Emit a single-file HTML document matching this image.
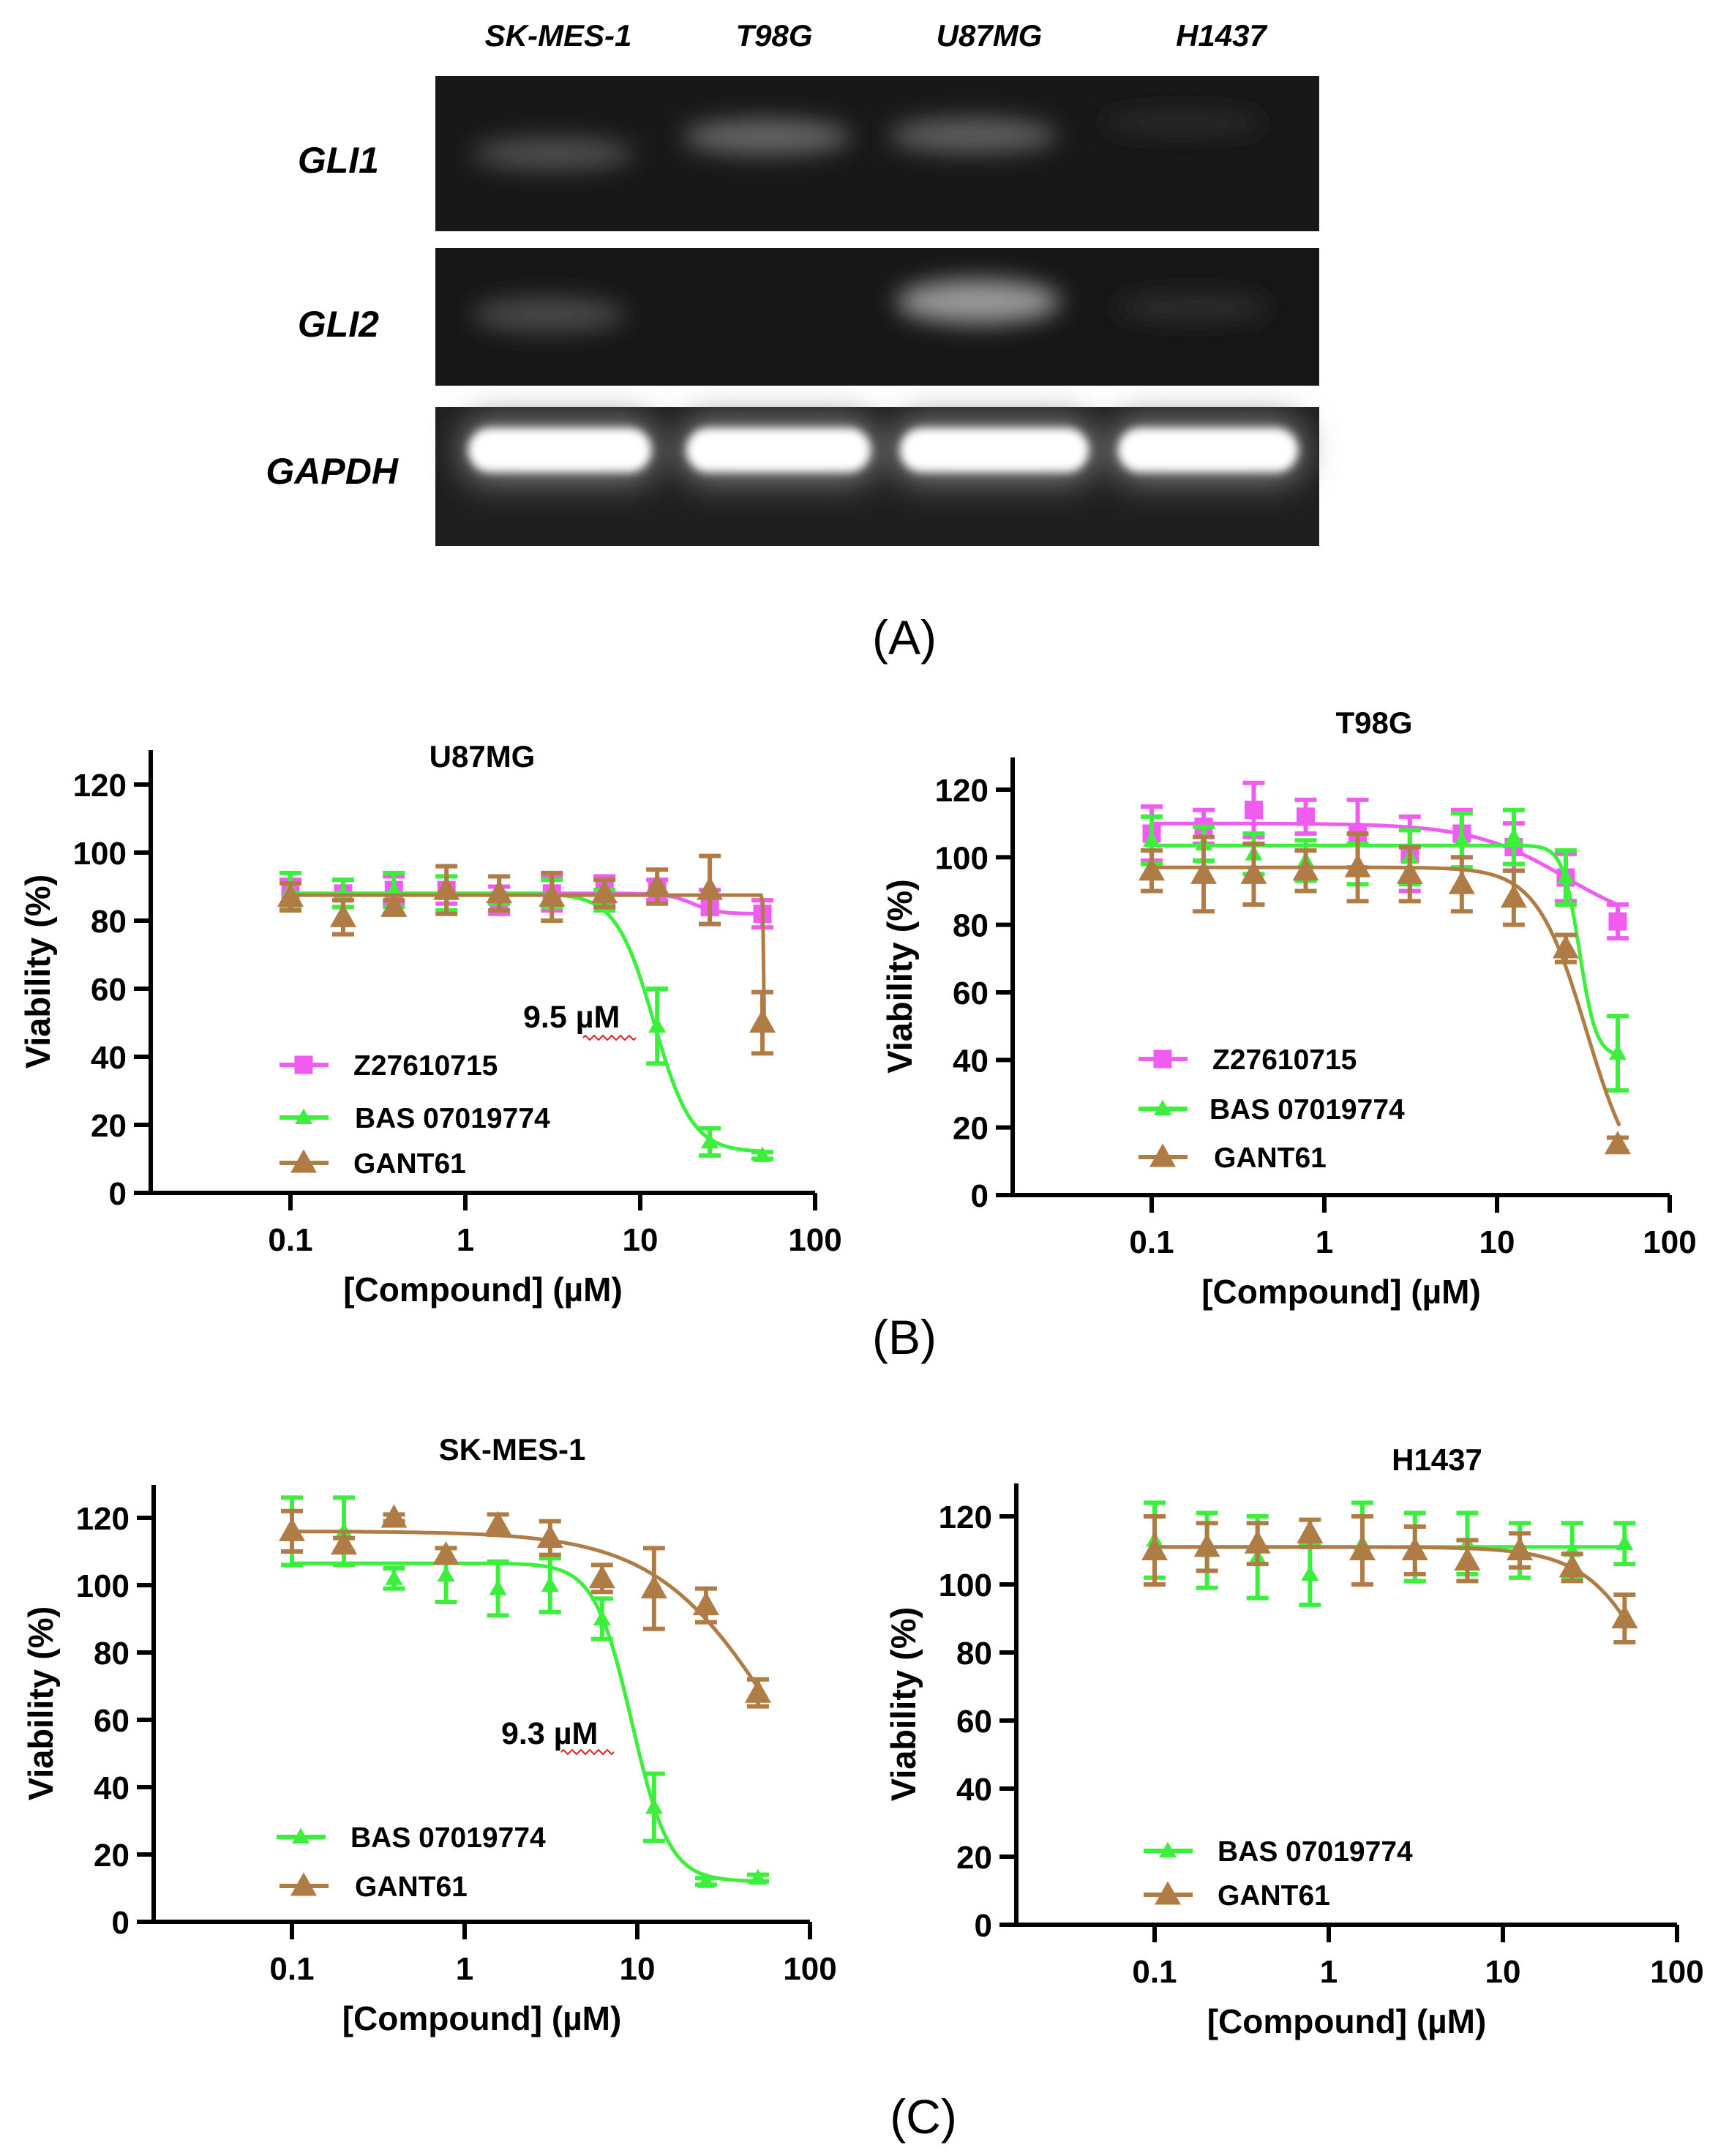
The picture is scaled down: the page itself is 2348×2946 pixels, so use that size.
<!DOCTYPE html>
<html><head><meta charset="utf-8"><style>
html,body{margin:0;padding:0;background:#fff}
svg{display:block}
text{font-family:"Liberation Sans",Arial,sans-serif}
</style></head><body>
<svg id="fig" width="2348" height="2946" viewBox="0 0 2348 2946" xmlns="http://www.w3.org/2000/svg">
<defs>
<filter id="b1" x="-50%" y="-100%" width="200%" height="300%"><feGaussianBlur stdDeviation="16"/></filter>
<filter id="b2" x="-50%" y="-100%" width="200%" height="300%"><feGaussianBlur stdDeviation="6"/></filter>
<filter id="b3" x="-50%" y="-100%" width="200%" height="300%"><feGaussianBlur stdDeviation="22"/></filter>
</defs>
<g>
<rect x="595" y="104" width="1208" height="212" fill="#181818"/>
<rect x="595" y="339" width="1208" height="188" fill="#171717"/>
<rect x="595" y="556" width="1208" height="190" fill="#1f1f1f"/>
<ellipse cx="756" cy="210" rx="110" ry="22" fill="#505050" filter="url(#b1)"/>
<ellipse cx="1048" cy="187" rx="115" ry="24" fill="#666" filter="url(#b1)"/>
<ellipse cx="1330" cy="185" rx="115" ry="24" fill="#5e5e5e" filter="url(#b1)"/>
<ellipse cx="1617" cy="168" rx="110" ry="16" fill="#2a2a2a" filter="url(#b1)"/>
<ellipse cx="750" cy="430" rx="105" ry="24" fill="#4a4a4a" filter="url(#b1)"/>
<ellipse cx="1337" cy="412" rx="112" ry="30" fill="#999" filter="url(#b1)"/>
<ellipse cx="1630" cy="420" rx="105" ry="18" fill="#2e2e2e" filter="url(#b1)"/>
<g filter="url(#b3)" fill="#777">
<rect x="630" y="570" width="270" height="90" rx="40"/><rect x="928" y="570" width="272" height="90" rx="40"/>
<rect x="1220" y="570" width="278" height="90" rx="40"/><rect x="1518" y="570" width="266" height="90" rx="40"/>
</g>
<rect x="640" y="585" width="250" height="60" rx="30" fill="#fff" filter="url(#b2)"/>
<rect x="938" y="585" width="252" height="60" rx="30" fill="#fff" filter="url(#b2)"/>
<rect x="1230" y="585" width="258" height="60" rx="30" fill="#fff" filter="url(#b2)"/>
<rect x="1528" y="585" width="246" height="60" rx="30" fill="#fff" filter="url(#b2)"/>
<g font-weight="bold" font-style="italic" font-size="42" text-anchor="middle">
<text x="763" y="63">SK-MES-1</text>
<text x="1058" y="63">T98G</text>
<text x="1352" y="63">U87MG</text>
<text x="1669" y="63">H1437</text>
</g>
<g font-weight="bold" font-style="italic" font-size="50" text-anchor="end">
<text x="518" y="236">GLI1</text>
<text x="518" y="460">GLI2</text>
<text x="544" y="661">GAPDH</text>
</g>
</g>
<g font-size="66" text-anchor="middle">
<text x="1236" y="894">(A)</text>
<text x="1236" y="1850">(B)</text>
<text x="1262" y="2915">(C)</text>
</g>
<g id="charts"></g>
</svg>
<script>
// ---- data ----
const conc = [0.1,0.2,0.39,0.78,1.56,3.125,6.25,12.5,25,50];
const xTicks = [0.1,1,10,100];
const xTickLabels = ["0.1","1","10","100"];
const yTicks = [0,20,40,60,80,100,120];

const u87Pink = [88,88,89,89,86,88,89,89,84,82];
const u87PinkErr = [4,4,4,4,4,5,4,3,5,4];
const u87Green = [89,88,89,88,89,88,86,49,15,11];
const u87GreenErr = [5,4,5,5,4,4,3,11,4,1];
const u87Brown = [87,81,84,89,88,87,88,90,89,50];
const u87BrownErr = [4,5,2,7,5,7,4,5,10,9];

const t98Pink = [107,109,114,112,107,101,107,103,94,81];
const t98PinkErr = [8,5,8,5,10,11,7,7,7,5];
const t98Green = [105,104,101,99,98,100,105,106,94,42];
const t98GreenErr = [7,5,6,6,6,8,8,8,8,11];
const t98Brown = [96,95,95,96,97,95,92,88,73,15];
const t98BrownErr = [6,11,9,6,10,8,8,8,4,2];

const skGreen = [116,116,102,103,99,100,90,34,12,13];
const skGreenErr = [10,10,3,8,8,8,6,10,1,1];
const skBrown = [116,112,120,109,118,114,102,99,94,68];
const skBrownErr = [6,2,1,2,3,5,4,12,5,4];

const hGreen = [113,110,108,103,112,111,112,110,110,112];
const hGreenErr = [11,11,12,9,12,10,9,8,8,6];
const hBrown = [110,111,112,115,110,110,107,110,105,90];
const hBrownErr = [10,7,6,4,10,7,6,5,4,7];

// fitted curve parameters [top, bottom, ic50, hill]
const u87PinkFit = [88,82,20,6];
const u87GreenFit = [88,12,12,4];
const u87BrownFit = [87.5,50,50.6,300];
const t98PinkFit = [110,78,25,1.6];
const t98GreenFit = [103.5,41,30,9];
const t98BrownFit = [97,0,33,3];
const skGreenFit = [106.5,12,9.3,4];
const skBrownFit = [116,0,70,1.2];
const hGreenFit = [111,111,100,1];
const hBrownFit = [111,0,103,2];

const PINK="#f05cf0", GREEN="#3cef3c", BROWN="#b07c45";
const NS="http://www.w3.org/2000/svg";
const root=document.getElementById('charts');
function mk(tag,attrs,parent){const e=document.createElementNS(NS,tag);for(const k in attrs)e.setAttribute(k,attrs[k]);parent.appendChild(e);return e;}

function chart(cfg){
  const g=mk('g',{},root);
  
  
  const yS=v=>cfg.y0-(v/120)*(cfg.y0-cfg.y120);
  const xS=c=>cfg.x01+(Math.log10(c)+1)*cfg.dec;
  const x100=xS(100);
  const ax=mk('path',{d:`M${cfg.ax},${cfg.top}V${cfg.y0}M${cfg.ax-23},${cfg.y0}H${x100}`,stroke:'#000','stroke-width':6,fill:'none'},g);
  
  
  yTicks.forEach(v=>{
    const y=yS(v);
    const t=mk('line',{x1:cfg.ax-23,x2:cfg.ax,y1:y,y2:y,stroke:'#000','stroke-width':6},g);
    
    
    const l=mk('text',{x:cfg.ax-33,y:y+16,'text-anchor':'end','font-size':44,'font-weight':'bold'},g);
    l.textContent=v;
    
    
  });
  xTicks.forEach((c,i)=>{
    const x=xS(c);
    const t=mk('line',{x1:x,x2:x,y1:cfg.y0,y2:cfg.y0+24,stroke:'#000','stroke-width':6},g);
    
    
    const l=mk('text',{x:x,y:cfg.y0+79,'text-anchor':'middle','font-size':44,'font-weight':'bold'},g);
    l.textContent=xTickLabels[i];
    
    
  });
  const xt=mk('text',{x:(cfg.ax+x100)/2,y:cfg.y0+148,'text-anchor':'middle','font-size':46,'font-weight':'bold'},g);
  xt.textContent='[Compound] (µM)';
  
  
  const yc=(cfg.y0+cfg.top)/2, yx=cfg.ax-154;
  const yt=mk('text',{x:yx,y:yc,'text-anchor':'middle','font-size':47,'font-weight':'bold',transform:`rotate(-90 ${yx} ${yc}) translate(0 16)`},g);
  yt.textContent='Viability (%)';
  
  
  const tt=mk('text',{x:cfg.tx,y:cfg.ty+15,'text-anchor':'middle','font-size':42,'font-weight':'bold'},g);
  tt.textContent=cfg.title;
  
  
  if(cfg.ann){
    const a=mk('text',{x:cfg.ann.x,y:cfg.ann.y,'font-size':43,'font-weight':'bold'},g);
    a.textContent=cfg.ann.t;
    
    
    let d=`M${cfg.ann.sx},${cfg.ann.sy}`;
    for(let k=0;k<12;k++)d+=`l3,${k%2?3:-3}l3,${k%2?-3:3}`;
    const sq=mk('path',{d:d,stroke:'#e02020','stroke-width':2,fill:'none'},g);
    
    
  }
  function marker(par,shape,color,x,y,s){
    let m;
    if(shape==='sq') m=mk('rect',{x:x-s/2,y:y-s/2,width:s,height:s,fill:color},par);
    else m=mk('path',{d:`M${x},${y-s*0.62}L${x+s*0.6},${y+s*0.45}L${x-s*0.6},${y+s*0.45}Z`,fill:color},par);
    return m;
  }
  cfg.series.forEach(s=>{
    const sg=mk('g',{},g);
    
    
    const [top,bot,ic,h]=s.fit;
    let d='';
    for(let i=0;i<=300;i++){
      const lc=-1+i/300*Math.log10(51.2/0.1);
      const c=Math.pow(10,lc);
      const v=bot+(top-bot)/(1+Math.pow(c/ic,h));
      d+=(i?'L':'M')+xS(c).toFixed(1)+','+yS(v).toFixed(1);
    }
    const cv=mk('path',{d:d,stroke:s.color,'stroke-width':5,fill:'none'},sg);
    
    
    conc.forEach((c,i)=>{
      const x=xS(c), v=s.vals[i], e=s.err[i];
      const eb=mk('path',{d:`M${x},${yS(v+e)}V${yS(v-e)}M${x-15},${yS(v+e)}h30M${x-15},${yS(v-e)}h30`,stroke:s.color,'stroke-width':6,fill:'none'},sg);
      
      
      const m=marker(sg,s.shape,s.color,x,yS(v),s.size);
      
      
    });
  });
  cfg.legend.forEach((L,i)=>{
    const s=cfg.series[i];
    const lg=mk('g',{},g);
    
    
    mk('line',{x1:L.x,x2:L.x+67,y1:L.y,y2:L.y,stroke:s.color,'stroke-width':6},lg);
    marker(lg,s.shape,s.color,L.x+33,L.y,s.size);
    const t=mk('text',{x:L.tx,y:L.y+14,'font-size':39,'font-weight':'bold'},lg);
    t.textContent=s.label;
  });
}

chart({name:'chart-u87mg',title:'U87MG',tx:659,ty:1033,ax:206,top:1025,y0:1630,y120:1072,x01:397,dec:239,
  ann:{t:'9.5 µM',x:715,y:1404,sx:797,sy:1418},
  series:[
   {name:'series-z27610715',label:'Z27610715',color:PINK,shape:'sq',size:25,vals:u87Pink,err:u87PinkErr,fit:u87PinkFit},
   {name:'series-bas07019774',label:'BAS 07019774',color:GREEN,shape:'tri',size:20,vals:u87Green,err:u87GreenErr,fit:u87GreenFit},
   {name:'series-gant61',label:'GANT61',color:BROWN,shape:'tri',size:30,vals:u87Brown,err:u87BrownErr,fit:u87BrownFit}],
  legend:[{x:382,y:1455,tx:483},{x:382,y:1527,tx:485},{x:382,y:1589,tx:483}]});
chart({name:'chart-t98g',title:'T98G',tx:1878,ty:987,ax:1384,top:1035,y0:1633,y120:1079,x01:1574,dec:236,
  series:[
   {name:'series-z27610715',label:'Z27610715',color:PINK,shape:'sq',size:25,vals:t98Pink,err:t98PinkErr,fit:t98PinkFit},
   {name:'series-bas07019774',label:'BAS 07019774',color:GREEN,shape:'tri',size:20,vals:t98Green,err:t98GreenErr,fit:t98GreenFit},
   {name:'series-gant61',label:'GANT61',color:BROWN,shape:'tri',size:30,vals:t98Brown,err:t98BrownErr,fit:t98BrownFit}],
  legend:[{x:1556,y:1447,tx:1657},{x:1556,y:1515,tx:1653},{x:1556,y:1581,tx:1659}]});
chart({name:'chart-skmes1',title:'SK-MES-1',tx:700,ty:1980,ax:210,top:2029,y0:2626,y120:2074,x01:399,dec:236,
  ann:{t:'9.3 µM',x:685,y:2383,sx:767,sy:2394},
  series:[
   {name:'series-bas07019774',label:'BAS 07019774',color:GREEN,shape:'tri',size:20,vals:skGreen,err:skGreenErr,fit:skGreenFit},
   {name:'series-gant61',label:'GANT61',color:BROWN,shape:'tri',size:30,vals:skBrown,err:skBrownErr,fit:skBrownFit}],
  legend:[{x:378,y:2510,tx:479},{x:382,y:2577,tx:485}]});
chart({name:'chart-h1437',title:'H1437',tx:1964,ty:1994,ax:1389,top:2027,y0:2630,y120:2072,x01:1578,dec:238,
  series:[
   {name:'series-bas07019774',label:'BAS 07019774',color:GREEN,shape:'tri',size:20,vals:hGreen,err:hGreenErr,fit:hGreenFit},
   {name:'series-gant61',label:'GANT61',color:BROWN,shape:'tri',size:30,vals:hBrown,err:hBrownErr,fit:hBrownFit}],
  legend:[{x:1563,y:2529,tx:1664},{x:1563,y:2589,tx:1664}]});
</script>
</body></html>
